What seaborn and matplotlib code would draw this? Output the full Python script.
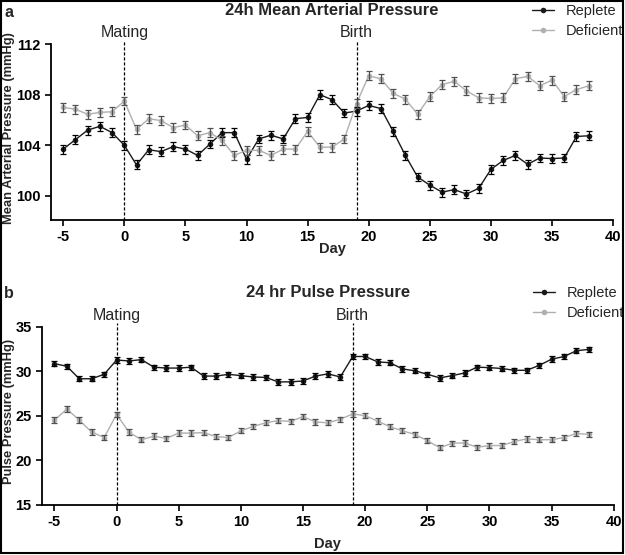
import numpy as np
import pandas as pd
import matplotlib
matplotlib.use('Agg')
import matplotlib.pyplot as plt
import matplotlib.transforms as mtransforms
from matplotlib.patches import Rectangle
import seaborn as sns

days = list(range(-5, 39))

map_replete = [103.7, 104.45, 105.2, 105.5, 105.0, 104.0, 102.45, 103.65, 103.5, 103.9,
               103.7, 103.2, 104.1, 105.0, 105.0, 102.9, 104.5, 104.8, 104.5, 106.1,
               106.2, 108.0, 107.6, 106.55, 106.7, 107.15, 106.9, 105.1, 103.2, 101.5,
               100.85, 100.3, 100.5, 100.15, 100.6, 102.1, 102.8, 103.2, 102.5, 103.0,
               102.95, 103.0, 104.7, 104.75]
map_deficient = [107.0, 106.85, 106.45, 106.6, 106.65, 107.5, 105.25, 106.1, 105.95, 105.4,
                 105.6, 104.75, 105.0, 104.4, 103.2, 103.6, 103.6, 103.2, 103.7, 103.7,
                 105.1, 103.85, 103.85, 104.5, 107.3, 109.5, 109.25, 108.1, 107.65, 106.45,
                 107.85, 108.8, 109.05, 108.3, 107.75, 107.7, 107.75, 109.25, 109.45, 108.7,
                 109.15, 107.85, 108.4, 108.7]
map_sem = 0.35

pp_replete = [30.85, 30.55, 29.15, 29.15, 29.65, 31.25, 31.15, 31.3, 30.45, 30.35,
              30.35, 30.45, 29.45, 29.45, 29.65, 29.5, 29.35, 29.3, 28.8, 28.8,
              28.9, 29.45, 29.7, 29.35, 31.65, 31.65, 31.05, 30.95, 30.25, 30.05,
              29.65, 29.25, 29.5, 29.8, 30.45, 30.4, 30.3, 30.1, 30.1, 30.65,
              31.35, 31.65, 32.3, 32.45]
pp_deficient = [24.5, 25.75, 24.5, 23.15, 22.55, 25.15, 23.15, 22.3, 22.7, 22.45,
                23.05, 23.05, 23.1, 22.65, 22.55, 23.3, 23.8, 24.2, 24.45, 24.35,
                24.9, 24.3, 24.2, 24.6, 25.2, 25.0, 24.4, 23.75, 23.3, 22.9,
                22.2, 21.4, 21.9, 21.95, 21.45, 21.65, 21.65, 22.1, 22.4, 22.3,
                22.3, 22.55, 23.0, 22.9]
pp_sem = 0.3

groups = ['Replete', 'Deficient']
events = {'Mating': 0, 'Birth': 19}

sns.set_style('ticks')
plt.rcParams['font.family'] = ['Liberation Sans', 'DejaVu Sans']
plt.rcParams['axes.unicode_minus'] = False

fig = plt.figure(figsize=(6.25, 5.55), dpi=100)
ax1 = fig.add_axes([0.0816, 0.6036, 0.8994, 0.3171])
ax2 = fig.add_axes([0.0672, 0.0906, 0.9148, 0.3208])

line_col = {'Replete': '#1a1a1a', 'Deficient': '#b0b0b0'}
err_col = {'Replete': '#000000', 'Deficient': '#505050'}


def panel(ax, rep, defi, sem, title, ylab, ylim, yticks, letter, fy, ylab_x, xlab_y):
    df = pd.DataFrame({'Day': days * 2,
                       'value': rep + defi,
                       'group': ['Replete'] * len(days) + ['Deficient'] * len(days)})
    sns.lineplot(data=df, x='Day', y='value', hue='group', hue_order=groups,
                 palette=line_col, marker='o', markersize=4, markeredgewidth=0,
                 linewidth=1, ax=ax)
    for g, vals in zip(groups, [rep, defi]):
        ax.errorbar(days, vals, yerr=sem, fmt='none', ecolor=err_col[g],
                    elinewidth=0.9, capsize=2, capthick=0.9, zorder=3)
    ax.set_xlim(-6, 40)
    ax.set_ylim(*ylim)
    ax.set_xticks(range(-5, 41, 5))
    ax.set_yticks(yticks)
    for lab in ax.get_xticklabels() + ax.get_yticklabels():
        lab.set_fontweight('bold')
    ax.tick_params(labelsize=10.5, width=1.2, length=4, color='black', labelcolor='black')
    for s in ['left', 'bottom']:
        ax.spines[s].set_linewidth(1.3)
        ax.spines[s].set_color('black')
    sns.despine(ax=ax)
    ax.set_xlabel('Day', fontsize=10.5, fontweight='bold')
    ax.xaxis.set_label_coords(0.5, xlab_y)
    ax.set_ylabel(ylab, fontsize=9.3, fontweight='bold')
    ax.yaxis.set_label_coords(ylab_x, 0.525)
    trans = mtransforms.blended_transform_factory(ax.transData, ax.transAxes)
    for name, d in events.items():
        ax.plot([d, d], [0, 1.02], ls=(0, (2.5, 1.5)), lw=0.9, color='black',
                transform=trans, clip_on=False)
        ax.text(d, 1.04, name, transform=trans, ha='center', va='baseline',
                fontsize=11.5)
    ax.text(0.5, 1.19, title, transform=ax.transAxes, ha='center', va='center',
            fontsize=12, fontweight='bold')
    sns.move_legend(ax, 'upper right', bbox_to_anchor=(1.028, 1.26), title=None,
                    frameon=False, fontsize=10.5, handlelength=1.5,
                    handletextpad=0.8, labelspacing=0.4, borderaxespad=0)
    fig.text(0.007, fy, letter, fontsize=11.5, fontweight='bold', va='center')


panel(ax1, map_replete, map_deficient, map_sem, '24h Mean Arterial Pressure',
      'Mean Arterial Pressure (mmHg)', (98.1, 112), [100, 104, 108, 112], 'a', 0.978,
      -0.064, -0.125)
panel(ax2, pp_replete, pp_deficient, pp_sem, '24 hr Pulse Pressure',
      'Pulse Pressure (mmHg)', (15, 35), [15, 20, 25, 30, 35], 'b', 0.472,
      -0.047, -0.18)

fig.patches.append(Rectangle((0.002, 0.003), 0.994, 0.995, transform=fig.transFigure,
                             fill=False, lw=1.5, edgecolor='black'))

fig.savefig('out.png', dpi=100)
